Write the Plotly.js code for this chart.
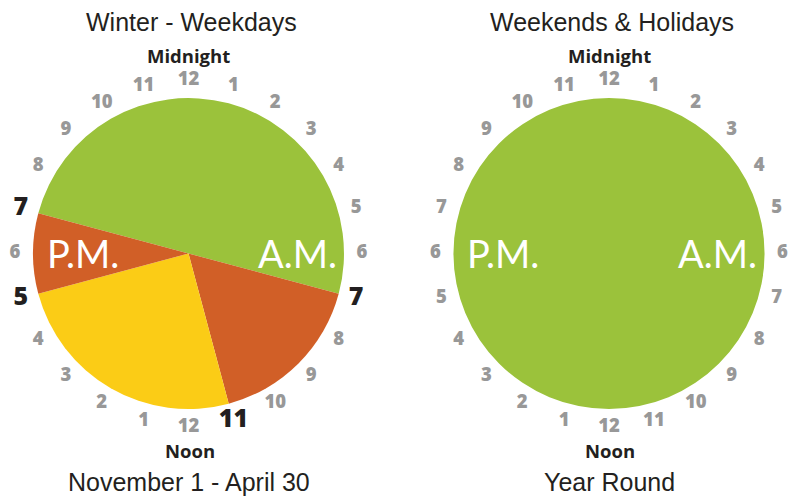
<!DOCTYPE html>
<html><head><meta charset="utf-8">
<script src="https://cdn.plot.ly/plotly-3.0.1.min.js"></script>
<style>html,body{margin:0;padding:0;background:#fff}</style>
</head><body><div id="chart" style="width:791px;height:497px"></div>
<script>
// ---- data ----
// Winter weekday periods, in hours, listed clockwise starting at 7 P.M.
const winterPeriods = ['Off-peak 7 P.M. - 7 A.M.', 'Mid-peak 7 - 11 A.M.', 'On-peak 11 A.M. - 5 P.M.', 'Mid-peak 5 - 7 P.M.'];
const winterHours = [12, 4, 6, 2];
const winterStartHour = 19;
// Weekends & holidays: one period all day
const weekendPeriods = ['Off-peak all day'];
const weekendHours = [24];
const weekendStartHour = 0;
// Clock face: hour position (0 = midnight) and its label
const clockHours = [0,1,2,3,4,5,6,7,8,9,10,11,12,13,14,15,16,17,18,19,20,21,22,23];
const clockLabels = ['12','1','2','3','4','5','6','7','8','9','10','11','12','1','2','3','4','5','6','7','8','9','10','11'];
// Highlighted period boundaries on the winter clock
const boundaryHours = [7, 11, 17, 19];
const boundaryLabels = ['7', '11', '5', '7'];
const titles = ['Winter - Weekdays', 'Weekends & Holidays'];
const subtitles = ['November 1 - April 30', 'Year Round'];

// ---- styles ----
const GREEN = '#9BC23B', ORANGE = '#D15F27', YELLOW = '#FBCC16';
const winterColors = [GREEN, ORANGE, YELLOW, ORANGE];
const weekendColors = [GREEN];
const GRAY = '#989898', INK = '#231F20';
const W = 791, H = 497;
const centers = [[188.5, 243.5], [609, 243.5]]; // px from left / bottom
const pieR = 155.5, polarR = 180, labelR = 173.5;
const numFont = {family: 'Open Sans, Arial, sans-serif', size: 18.5, color: GRAY, weight: 800};
const boldFont = {family: 'Open Sans, Arial, sans-serif', size: 25, color: INK, weight: 800};

function dom(c, r) {
  return {x: [(c[0] - r) / W, (c[0] + r) / W], y: [(c[1] - r) / H, (c[1] + r) / H]};
}
const toTheta = h => h * 15;

const traces = [];
[[winterPeriods, winterHours, winterColors, winterStartHour],
 [weekendPeriods, weekendHours, weekendColors, weekendStartHour]].forEach((p, i) => {
  traces.push({
    type: 'pie', labels: p[0], values: p[1], sort: false, direction: 'clockwise',
    rotation: toTheta(p[3]) > 180 ? toTheta(p[3]) - 360 : toTheta(p[3]),
    marker: {colors: p[2], line: {width: 0}}, textinfo: 'none', hoverinfo: 'label',
    domain: dom(centers[i], pieR), showlegend: false
  });
});

// gray hour numbers
const rRatio = labelR / pieR;
[0, 1].forEach(i => {
  const hs = [], ls = [];
  clockHours.forEach((h, k) => {
    if (i === 0 && boundaryHours.includes(h)) return;
    hs.push(toTheta(h)); ls.push(clockLabels[k]);
  });
  traces.push({
    type: 'scatterpolar', mode: 'text', subplot: i === 0 ? 'polar' : 'polar2',
    r: hs.map(() => rRatio), theta: hs, text: ls, textfont: numFont,
    textposition: 'middle center', cliponaxis: false, hoverinfo: 'skip', showlegend: false
  });
});
traces.push({
  type: 'scatterpolar', mode: 'text', subplot: 'polar',
  r: boundaryHours.map(() => rRatio), theta: boundaryHours.map(toTheta), text: boundaryLabels,
  textfont: boldFont, textposition: 'middle center', cliponaxis: false, hoverinfo: 'skip', showlegend: false
});

function polarCfg(c) {
  return {
    domain: dom(c, polarR), bgcolor: 'rgba(0,0,0,0)',
    radialaxis: {visible: false, range: [0, polarR / pieR]},
    angularaxis: {visible: false, rotation: 90, direction: 'clockwise', thetaunit: 'degrees'}
  };
}

const ann = [];
const titleFont = {family: 'Liberation Sans, Arial, sans-serif', size: 25, color: INK};
const markFont = {family: 'Open Sans, Arial, sans-serif', size: 18.5, color: INK, weight: 700};
const ampmFont = {family: 'Lato, Open Sans, sans-serif', size: 38, color: '#ffffff'};
centers.forEach((c, i) => {
  const px = c[0] / W;
  ann.push({text: titles[i], x: px + 3 / W, y: 1 - 22 / H, font: titleFont});
  ann.push({text: subtitles[i], x: px, y: 1 - 482 / H, font: titleFont});
  ann.push({text: 'Midnight', x: px, y: 1 - 56 / H, font: markFont});
  ann.push({text: 'Noon', x: px + 1 / W, y: 1 - 450 / H, font: markFont});
  ann.push({text: 'P.M.', x: (c[0] - 106) / W, y: 1 - 253 / H, font: ampmFont});
  ann.push({text: 'A.M.', x: (c[0] + 108.5) / W, y: 1 - 253 / H, font: ampmFont});
});
ann.forEach(a => { a.xref = 'paper'; a.yref = 'paper'; a.showarrow = false; a.xanchor = 'center'; a.yanchor = 'middle'; });

Plotly.newPlot('chart', traces, {
  width: W, height: H, margin: {l: 0, r: 0, t: 0, b: 0},
  paper_bgcolor: '#fff', plot_bgcolor: '#fff', showlegend: false,
  polar: polarCfg(centers[0]), polar2: polarCfg(centers[1]),
  annotations: ann
}, {staticPlot: true});
</script></body></html>
